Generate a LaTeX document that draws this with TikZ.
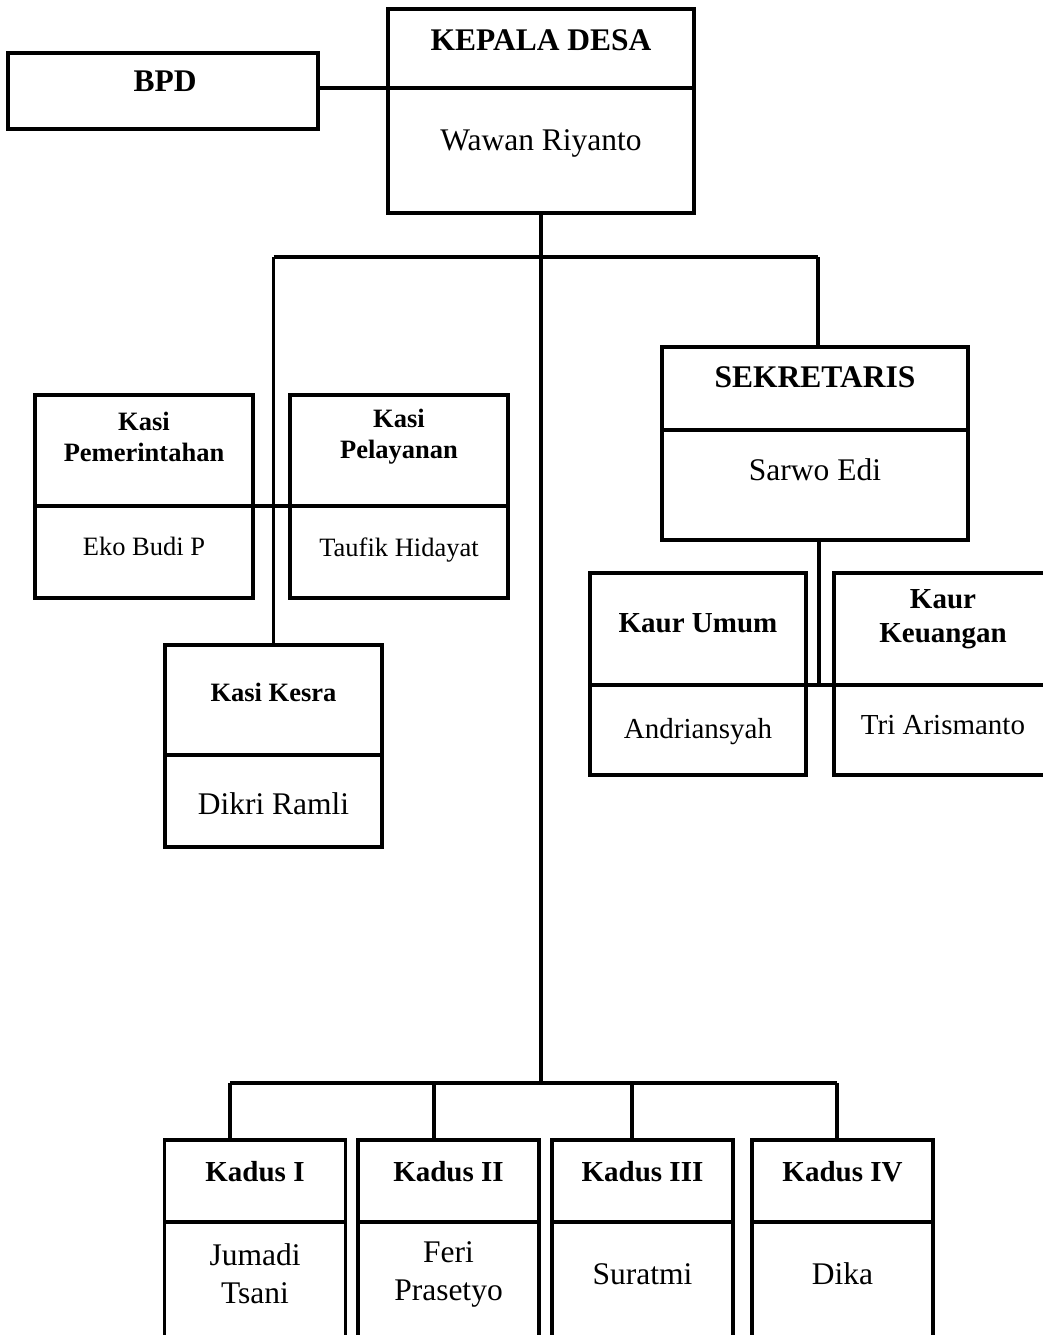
\documentclass[tikz,border=0pt]{standalone}
\usepackage{fontspec}
\setmainfont{Liberation Serif}
\usetikzlibrary{positioning}

\newcommand{\besar}{\fontsize{31.5}{38}\selectfont}
\newcommand{\sedang}{\fontsize{29}{34}\selectfont}
\newcommand{\kecil}{\fontsize{26.5}{31}\selectfont}

\tikzset{
  kotak/.style={draw, line width=3.5pt, inner sep=0pt, outer sep=0pt},
  garis/.style={line width=3.5pt},
  judul/.style={font=#1\bfseries, align=center, inner sep=0pt},
  nama/.style={font=#1, align=center, inner sep=0pt}
}

\begin{document}
\begin{tikzpicture}[x=1pt,y=-1pt]
\clip (0,0) rectangle (1043,1335);

% kepala desa & bpd
\node[kotak, minimum width=306, minimum height=79] (kadesA) at (541,48.5) {};
\node[kotak, minimum width=306, minimum height=125, below=0pt of kadesA] (kadesB) {};
\node[judul=\besar] (kadesT) at (541,40) {KEPALA DESA};
\node[nama=\besar] (kadesN) at (541,143) {Wawan Riyanto};
\node[kotak, minimum width=310, minimum height=76] (bpd) at (163,91) {};
\node[judul=\besar] (bpdT) at (165,81) {BPD};

% kasi
\node[kotak, minimum width=218, minimum height=111] (pemA) at (144,450.5) {};
\node[kotak, minimum width=218, minimum height=92, below=0pt of pemA] (pemB) {};
\node[judul=\kecil] (pemT) at (144,437) {Kasi\\Pemerintahan};
\node[nama=\kecil] (pemN) at (144,546) {Eko Budi P};

\node[kotak, minimum width=218, minimum height=111] (pelA) at (399,450.5) {};
\node[kotak, minimum width=218, minimum height=92, below=0pt of pelA] (pelB) {};
\node[judul=\kecil] (pelT) at (399,437) {Kasi\\Pelayanan};
\node[nama=\kecil] (pelN) at (399,550) {Taufik Hidayat};

\node[kotak, minimum width=217, minimum height=110] (kesraA) at (273.5,700) {};
\node[kotak, minimum width=217, minimum height=92, below=0pt of kesraA] (kesraB) {};
\node[judul=\kecil] (kesraT) at (273.5,692) {Kasi Kesra};
\node[nama=\besar] (kesraN) at (273.5,804) {Dikri Ramli};

% sekretaris & kaur
\node[kotak, minimum width=306, minimum height=83] (sekA) at (815,388.5) {};
\node[kotak, minimum width=306, minimum height=110, below=0pt of sekA] (sekB) {};
\node[judul=\besar] (sekT) at (815,377) {SEKRETARIS};
\node[nama=\besar] (sekN) at (815,470) {Sarwo Edi};

\node[kotak, minimum width=216, minimum height=112] (umumA) at (698,629) {};
\node[kotak, minimum width=216, minimum height=90, below=0pt of umumA] (umumB) {};
\node[judul=\sedang] (umumT) at (698,623) {Kaur Umum};
\node[nama=\sedang] (umumN) at (698,732) {Andriansyah};

\node[kotak, minimum width=218, minimum height=112] (keuA) at (943,629) {};
\node[kotak, minimum width=218, minimum height=90, below=0pt of keuA] (keuB) {};
\node[judul=\sedang] (keuT) at (943,619) {Kaur\\Keuangan};
\node[nama=\sedang] (keuN) at (943,725) {Tri Arismanto};

% kadus
\foreach \i/\x/\jab/\nm in {1/255/Kadus I/{Jumadi\\Tsani},
                             2/448.5/Kadus II/{Feri\\Prasetyo},
                             3/642.5/Kadus III/Suratmi,
                             4/842.5/Kadus IV/Dika}{
  \node[kotak, minimum width=181, minimum height=82] (kadus\i A) at (\x,1181) {};
  \node[kotak, minimum width=181, minimum height=160, below=0pt of kadus\i A] (kadus\i B) {};
  \node[judul=\sedang] (kadus\i T) at (\x,1172) {\jab};
  \node[nama=\besar] (kadus\i N) at (\x,1274) {\nm};
}

% garis
\coordinate (kiri) at (273.5,257);
\coordinate (kanan) at (818,257);
\coordinate (bawah) at (541,1083);
\draw[garis] (bpd.east |- kadesA.south) -- (kadesA.south west);
\draw[garis] (kadesB.south) -- (bawah);
\draw[garis] (kiri) -- (kanan);
\draw[garis] (kiri) -- (kesraA.north);
\draw[garis] (kanan) -- (kanan |- sekA.north);
\draw[garis] (pemA.south east) -- (pelA.south west);
\draw[garis] (sekB.south) ++(4,0) coordinate (sekturun) -- (sekturun |- umumA.south);
\draw[garis] (umumA.south east) -- (keuA.south west);
\foreach \i/\x in {1/230,2/434,3/632,4/837}{
  \coordinate (turun\i) at (\x,1083);
  \draw[garis] (turun\i) -- (turun\i |- kadus\i A.north);
}
\draw[garis] (turun1) -- (turun4);
\end{tikzpicture}
\end{document}
